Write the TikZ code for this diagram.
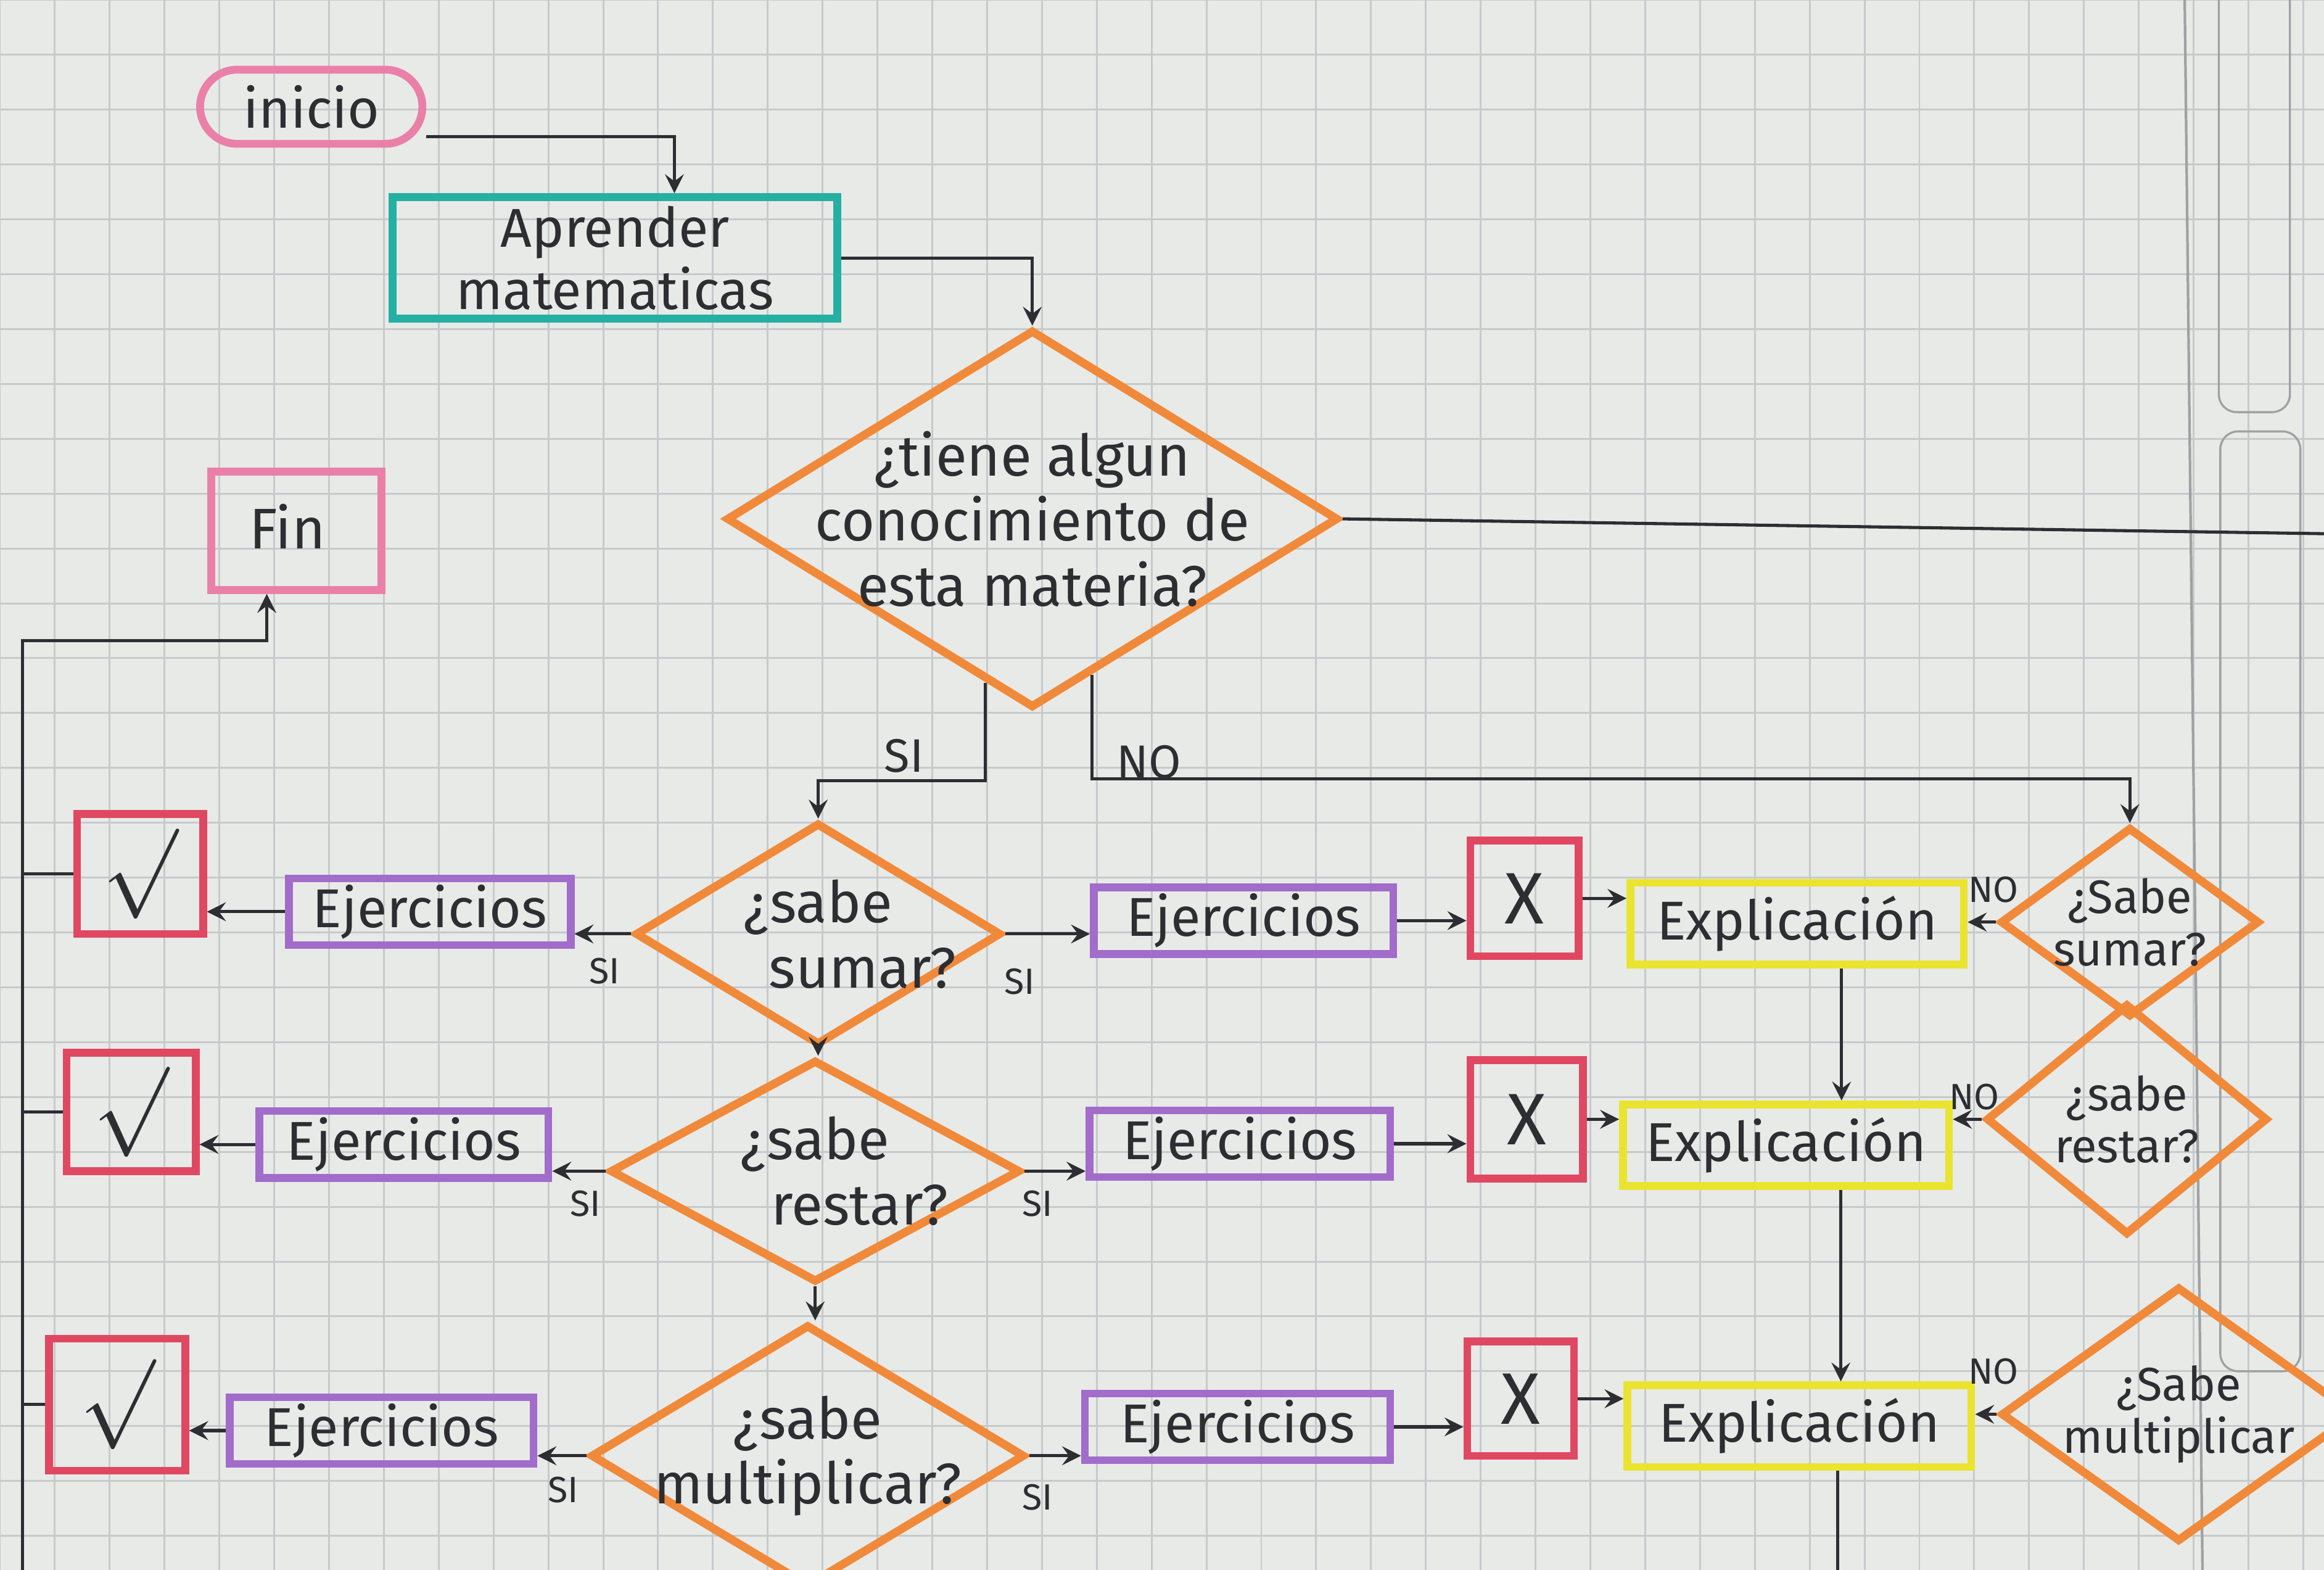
\documentclass[tikz,border=0pt]{standalone}
\usepackage{fontspec}
\setmainfont{Fira Sans}
\usetikzlibrary{shapes.geometric}

\definecolor{papel}{RGB}{232,234,232}
\definecolor{cuadro}{RGB}{198,202,203}
\definecolor{naranja}{RGB}{240,138,58}
\definecolor{rosa}{RGB}{234,128,168}
\definecolor{turquesa}{RGB}{38,176,163}
\definecolor{morado}{RGB}{162,108,202}
\definecolor{rojo}{RGB}{224,72,98}
\definecolor{amarillo}{RGB}{234,228,48}
\definecolor{tinta}{RGB}{45,45,50}

\tikzset{
  caja/.style={draw, line width=1.5pt, inner sep=0pt, font=\fontsize{10.5}{12}\selectfont, text=tinta},
  inicio/.style={caja, draw=rosa, rounded corners=0.25cm, minimum width=1.5cm, minimum height=0.5cm},
  proceso/.style={caja, draw=turquesa, align=center, minimum width=3cm, minimum height=0.82cm},
  fin/.style={caja, draw=rosa, minimum width=1.15cm, minimum height=0.8cm},
  ejercicio/.style={caja, draw=morado, minimum height=0.45cm},
  bien/.style={caja, draw=rojo, font=\fontsize{16}{16}\selectfont},
  mal/.style={caja, draw=rojo, font=\fontsize{14}{14}\selectfont},
  explica/.style={caja, draw=amarillo, minimum height=0.55cm},
  pregunta/.style={draw=naranja, diamond, line width=1.6pt, inner sep=0pt},
  texto/.style={font=\fontsize{11}{12.5}\selectfont, text=tinta, align=center},
  chico/.style={font=\fontsize{9}{10}\selectfont, text=tinta, align=center},
  letrero/.style={font=\fontsize{7}{8}\selectfont, text=tinta, inner sep=0pt},
  flecha/.style={->, >=stealth, line width=0.6pt, draw=tinta},
  linea/.style={line width=0.6pt, draw=tinta}
}

\begin{document}
\begin{tikzpicture}
    \useasboundingbox (0,0) rectangle (15.68,-10.59);
    \clip (0,0) rectangle (15.68,-10.59);
    
    % hoja cuadriculada
    \fill[papel] (0,0) rectangle (15.68,-10.59);
    \draw[cuadro, line width=0.35pt, step=0.37cm] (0,0.1) grid (15.68,-10.7);
    \draw[cuadro!80!black, line width=0.5pt] (14.74,0) -- (14.86,-10.59);
    \draw[cuadro!80!black, line width=0.4pt, rounded corners=0.12cm] (14.97,0.2) rectangle (15.45,-2.78);
    \draw[cuadro!80!black, line width=0.4pt, rounded corners=0.12cm] (14.98,-2.91) rectangle (15.52,-9.25);
    
    % inicio
    \node[inicio] (inicio) at (2.10,-0.72) {inicio};
    \node[proceso] (aprender) at (4.15,-1.74) {Aprender\\matematicas};
    \node[pregunta, minimum width=4.13cm, minimum height=2.55cm,
          label={[texto]center:¿tiene algun\\conocimiento de\\esta materia?}] (tiene) at (6.965,-3.50) {};
    \node[fin, label={[anchor=north west, texto, xshift=1.6mm, yshift=-1.2mm]north west:Fin}] (fin) at (2.00,-3.58) {};
    
    % fila sumar
    \node[bien, minimum width=0.85cm, minimum height=0.81cm] (ok1) at (0.945,-5.895) {$\surd$};
    \node[ejercicio, minimum width=1.90cm] (ej1) at (2.90,-6.15) {Ejercicios};
    \node[pregunta, minimum width=2.47cm, minimum height=1.50cm,
          label={[texto]center:¿sabe\\\hspace*{6mm}sumar?}] (sumar) at (5.52,-6.30) {};
    \node[ejercicio, minimum width=2.02cm] (ej1b) at (8.39,-6.21) {Ejercicios};
    \node[mal, minimum width=0.73cm, minimum height=0.78cm] (no1) at (10.285,-6.06) {X};
    \node[explica, minimum width=2.25cm] (ex1) at (12.125,-6.23) {Explicación};
    \node[pregunta, minimum width=1.75cm, minimum height=1.28cm,
          label={[chico]center:¿Sabe\\sumar?}] (dsumar) at (14.37,-6.22) {};
    
    % fila restar
    \node[bien, minimum width=0.87cm, minimum height=0.80cm] (ok2) at (0.885,-7.50) {$\surd$};
    \node[ejercicio, minimum width=1.95cm] (ej2) at (2.725,-7.72) {Ejercicios};
    \node[pregunta, minimum width=2.77cm, minimum height=1.50cm,
          label={[texto]center:¿sabe\\\hspace*{6mm}restar?}] (restar) at (5.50,-7.90) {};
    \node[ejercicio, minimum width=2.03cm] (ej2b) at (8.365,-7.715) {Ejercicios};
    \node[mal, minimum width=0.76cm, minimum height=0.80cm] (no2) at (10.30,-7.55) {X};
    \node[explica, minimum width=2.20cm] (ex2) at (12.05,-7.725) {Explicación};
    \node[pregunta, minimum width=1.90cm, minimum height=1.56cm,
          label={[chico]center:¿sabe\\restar?}] (drestar) at (14.35,-7.55) {};
    
    % fila multiplicar
    \node[bien, minimum width=0.92cm, minimum height=0.89cm] (ok3) at (0.79,-9.475) {$\surd$};
    \node[ejercicio, minimum width=2.05cm] (ej3) at (2.575,-9.65) {Ejercicios};
    \node[pregunta, minimum width=2.93cm, minimum height=1.77cm,
          label={[texto]center:¿sabe\\multiplicar?}] (multi) at (5.45,-9.82) {};
    \node[ejercicio, minimum width=2.06cm] (ej3b) at (8.35,-9.625) {Ejercicios};
    \node[mal, minimum width=0.72cm, minimum height=0.77cm] (no3) at (10.26,-9.435) {X};
    \node[explica, minimum width=2.32cm] (ex3) at (12.14,-9.62) {Explicación};
    \node[pregunta, minimum width=2.40cm, minimum height=1.72cm,
          label={[chico]center:¿Sabe\\multiplicar}] (dmulti) at (14.70,-9.54) {};
    
    % conectores de arriba
    \draw[flecha] ([yshift=-2mm]inicio.east) -| ([xshift=4mm]aprender.north);
    \draw[flecha] (aprender.east) -| (tiene.north);
    \coordinate (borde) at (15.68,-3.60);
    \draw[linea] (tiene.east) -- (borde);
    \draw[flecha] (tiene.254) -- ++(0,-0.66) -| (sumar.north);
    \draw[flecha] (tiene.291) -- ++(0,-0.70) -| (dsumar.north);
    \node[chico] (si0) at (6.10,-5.10) {SI};
    \node[chico] (no0) at (7.75,-5.14) {NO};
    
    % regreso a fin
    \coordinate (izq) at (0.15,-4.32);
    \coordinate (izqb) at (0.15,-10.59);
    \draw[flecha] (izqb) -- (izq) -| ([xshift=-2mm]fin.south);
    \draw[linea] (ok1.west) -- (ok1.west -| izq);
    \draw[linea] (ok2.west) -- (ok2.west -| izq);
    \draw[linea] (ok3.west) -- (ok3.west -| izq);
    
    % flechas de cada fila
    \draw[flecha] (ej1.west) -- (ej1.west -| ok1.east);
    \draw[flecha] (sumar.west) -- (sumar.west -| ej1.east);
    \draw[flecha] (sumar.east) -- (sumar.east -| ej1b.west);
    \draw[flecha] (ej1b.east) -- (ej1b.east -| no1.west);
    \draw[flecha] (no1.east) -- (no1.east -| ex1.west);
    \draw[flecha] (dsumar.west) -- (dsumar.west -| ex1.east);
    
    \draw[flecha] (ej2.west) -- (ej2.west -| ok2.east);
    \draw[flecha] (restar.west) -- (restar.west -| ej2.east);
    \draw[flecha] (restar.east) -- (restar.east -| ej2b.west);
    \draw[flecha] (ej2b.east) -- (ej2b.east -| no2.west);
    \draw[flecha] (no2.east) -- (no2.east -| ex2.west);
    \draw[flecha] (drestar.west) -- (drestar.west -| ex2.east);
    
    \draw[flecha] (ej3.west) -- (ej3.west -| ok3.east);
    \draw[flecha] (multi.west) -- (multi.west -| ej3.east);
    \draw[flecha] (multi.east) -- (multi.east -| ej3b.west);
    \draw[flecha] (ej3b.east) -- (ej3b.east -| no3.west);
    \draw[flecha] (no3.east) -- (no3.east -| ex3.west);
    \draw[flecha] (dmulti.west) -- (dmulti.west -| ex3.east);
    
    % bajadas
    \draw[flecha] (sumar.south) -- (sumar.south |- restar.north);
    \draw[flecha] (restar.south) -- (restar.south |- multi.north);
    \draw[flecha] ([xshift=3mm]ex1.south) -- ([xshift=3mm]ex1.south |- ex2.north);
    \draw[flecha] ([xshift=3.7mm]ex2.south) -- ([xshift=3.7mm]ex2.south |- ex3.north);
    \draw[linea] ([xshift=2.6mm]ex3.south) -- ++(0,-1);
    
    % letreros SI / NO
    \node[letrero] (si1) at (4.08,-6.55) {SI};
    \node[letrero] (si2) at (6.88,-6.62) {SI};
    \node[letrero] (si3) at (3.95,-8.12) {SI};
    \node[letrero] (si4) at (7.00,-8.12) {SI};
    \node[letrero] (si5) at (3.80,-10.05) {SI};
    \node[letrero] (si6) at (7.00,-10.10) {SI};
    \node[letrero] (no4) at (13.45,-6.00) {NO};
    \node[letrero] (no5) at (13.32,-7.40) {NO};
    \node[letrero] (no6) at (13.45,-9.25) {NO};
\end{tikzpicture}
\end{document}
